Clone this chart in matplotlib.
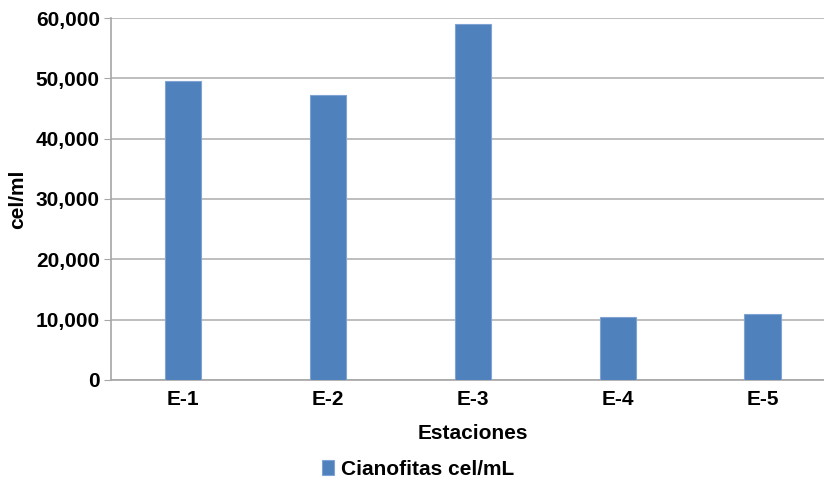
import matplotlib
matplotlib.use("Agg")
import matplotlib.pyplot as plt
from matplotlib.ticker import FuncFormatter

# ── data ──────────────────────────────────────────────────────────────────────
estaciones = ["E-1", "E-2", "E-3", "E-4", "E-5"]
cianofitas = [49500, 47200, 59000, 10400, 10900]

plt.rcParams["font.family"] = ["Liberation Sans", "DejaVu Sans"]
plt.rcParams["font.weight"] = "bold"

FS = 15

# ── figure ────────────────────────────────────────────────────────────────────
fig = plt.figure(figsize=(8.24, 4.83), dpi=100)
# plot area runs a bit past the right edge, as in the source image
ax = fig.add_axes([0.1347, 0.2133, 0.8786, 0.7494])

x = range(len(estaciones))
ax.bar(x, cianofitas, width=0.25, color="#4f81bd", edgecolor="#7fa3d3",
       linewidth=0.8, label="Cianofitas cel/mL", zorder=3)

ax.set_xlim(-0.5, len(estaciones) - 0.5)
ax.set_ylim(0, 60000)
ax.set_yticks(range(0, 60001, 10000))
ax.yaxis.set_major_formatter(FuncFormatter(lambda v, p: f"{int(v):,}"))
ax.set_xticks(list(x))
ax.set_xticklabels(estaciones)

ax.grid(axis="y", color="#b3b3b3", linewidth=1.2, zorder=0)
for s in ["top", "right"]:
    ax.spines[s].set_visible(False)
for s in ["left", "bottom"]:
    ax.spines[s].set_color("#a6a6a6")
    ax.spines[s].set_linewidth(1.2)

ax.tick_params(axis="y", length=5, color="#a6a6a6", labelsize=FS, pad=3)
ax.tick_params(axis="x", length=0, labelsize=FS, pad=7)
for lbl in ax.get_xticklabels() + ax.get_yticklabels():
    lbl.set_fontweight("bold")

ax.set_xlabel("Estaciones", fontsize=FS, fontweight="bold", labelpad=11)
ax.set_ylabel("cel/ml", fontsize=FS, fontweight="bold", labelpad=6)

fig.legend(loc="lower center", bbox_to_anchor=(0.507, -0.03), frameon=False,
           prop={"weight": "bold", "size": FS},
           handlelength=0.6, handleheight=0.7, handletextpad=0.3)

plt.savefig("out.png", dpi=100)
